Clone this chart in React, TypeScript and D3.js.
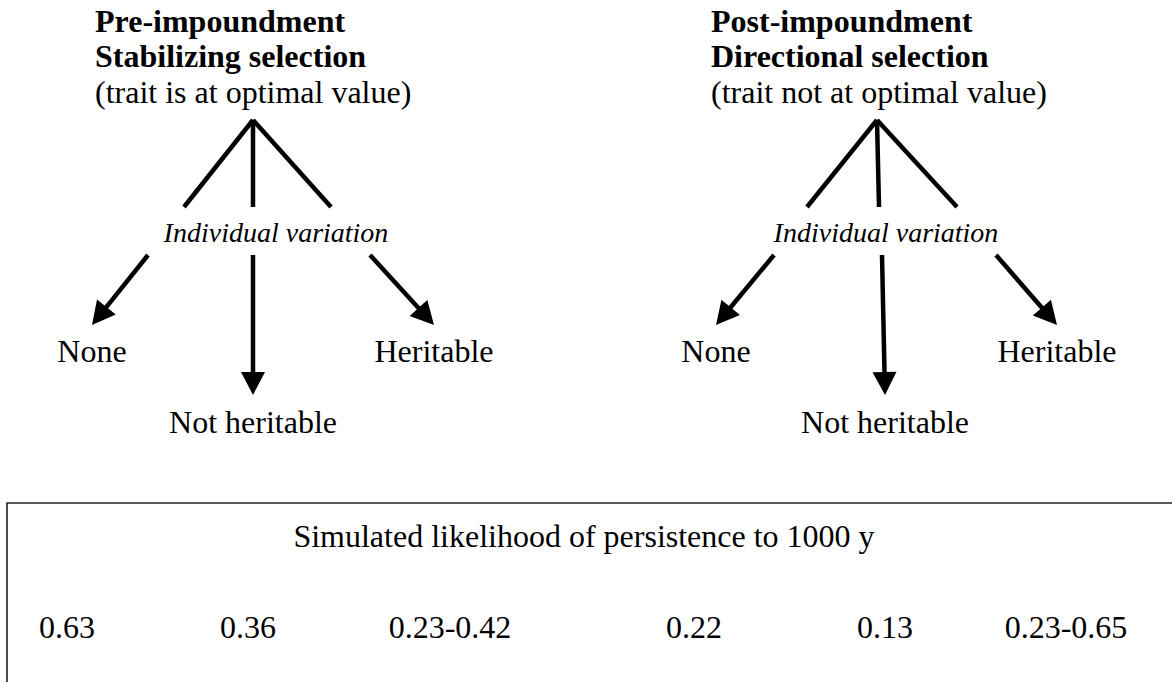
import { useRef, useEffect } from 'react';
import * as d3 from 'd3';

// panel headings
const panelTitles = [
  ['Pre-impoundment', 'Stabilizing selection'],
  ['Post-impoundment', 'Directional selection'],
];
const panelSubtitles = ['(trait is at optimal value)', '(trait not at optimal value)'];
const middleLabel = 'Individual variation';
const branchLabels = ['None', 'Not heritable', 'Heritable'];

// bottom table
const tableTitle = 'Simulated likelihood of persistence to 1000 y';
const persistence = ['0.63', '0.36', '0.23-0.42', '0.22', '0.13', '0.23-0.65'];

const W = 1172;
const H = 682;
const FONT = "'Liberation Serif', 'Times New Roman', serif";

// layout of each panel (apex x, where the heading starts, centre of italic label)
const panelLayout = [
  { cx: 253, textX: 95, midX: 276, lowDx: [-105, 0, 117], upDx: [-69, 0, 78], tipDx: [-161, 0, 181] },
  { cx: 877, textX: 711, midX: 886, lowDx: [-103, 5, 119], upDx: [-70, 2, 80], tipDx: [-161, 8, 180] },
];
const valueCenters = [67, 248, 450, 694, 885, 1066];

function App() {
  const ref = useRef<SVGSVGElement>(null);

  useEffect(() => {
    const svg = d3.select(ref.current);
    svg.selectAll('*').remove();
    svg.attr('width', W).attr('height', H);

    const line = d3.line<[number, number]>();

    const arrow = (g: any, x1: number, y1: number, x2: number, y2: number) => {
      const ang = Math.atan2(y2 - y1, x2 - x1);
      const len = 23;
      const half = 12;
      const bx = x2 - len * Math.cos(ang);
      const by = y2 - len * Math.sin(ang);
      g.append('path')
        .attr('d', line([[x1, y1], [bx + Math.cos(ang), by + Math.sin(ang)]]))
        .attr('stroke', '#000')
        .attr('stroke-width', 4.5)
        .attr('fill', 'none');
      const px = -Math.sin(ang);
      const py = Math.cos(ang);
      g.append('path')
        .attr('d', line([[x2, y2], [bx + px * half, by + py * half], [bx - px * half, by - py * half]]) + 'Z')
        .attr('fill', '#000');
    };

    panelLayout.forEach((p, i) => {
      const g = svg.append('g');
      const titleY = [32, 67];
      panelTitles[i].forEach((t, j) => {
        g.append('text')
          .attr('x', p.textX)
          .attr('y', titleY[j])
          .attr('font-family', FONT)
          .attr('font-weight', 'bold')
          .attr('font-size', 32)
          .text(t);
      });
      g.append('text')
        .attr('x', p.textX)
        .attr('y', 103)
        .attr('font-family', FONT)
        .attr('font-size', 32)
        .text(panelSubtitles[i]);

      // upper fan
      p.upDx.forEach(dx => {
        g.append('path')
          .attr('d', line([[p.cx, 120], [p.cx + dx, 207]]))
          .attr('stroke', '#000')
          .attr('stroke-width', 4.5)
          .attr('stroke-linejoin', 'miter')
          .attr('fill', 'none');
      });

      g.append('text')
        .attr('x', p.midX)
        .attr('y', 242)
        .attr('text-anchor', 'middle')
        .attr('font-family', FONT)
        .attr('font-style', 'italic')
        .attr('font-size', 28)
        .text(middleLabel);

      // lower arrows
      branchLabels.forEach((lab, k) => {
        const tipY = k === 1 ? 395 : 325;
        arrow(g, p.cx + p.lowDx[k], 255, p.cx + p.tipDx[k], tipY);
        g.append('text')
          .attr('x', p.cx + p.tipDx[k])
          .attr('y', k === 1 ? 433 : 362)
          .attr('text-anchor', 'middle')
          .attr('font-family', FONT)
          .attr('font-size', 32)
          .text(lab);
      });
    });

    // bottom box
    svg.append('path')
      .attr('d', line([[7, H + 5], [7, 503], [W + 5, 503]]))
      .attr('stroke', '#222')
      .attr('stroke-width', 1.6)
      .attr('fill', 'none');

    svg.append('text')
      .attr('x', 584)
      .attr('y', 547)
      .attr('text-anchor', 'middle')
      .attr('font-family', FONT)
      .attr('font-size', 32)
      .text(tableTitle);

    svg.selectAll('text.val')
      .data(persistence)
      .enter()
      .append('text')
      .attr('class', 'val')
      .attr('x', (_d, i) => valueCenters[i])
      .attr('y', 638)
      .attr('text-anchor', 'middle')
      .attr('font-family', FONT)
      .attr('font-size', 32)
      .text(d => d);
  }, []);

  return <svg ref={ref} style={{ display: 'block', position: 'absolute', left: 0, top: 0, background: '#fff' }} />;
}

export default App;
